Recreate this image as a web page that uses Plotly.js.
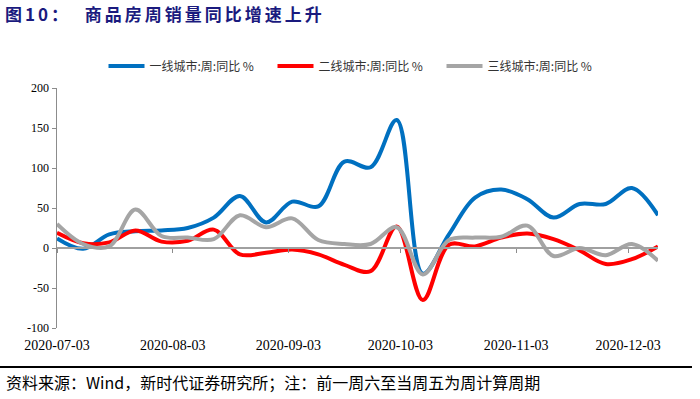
<!DOCTYPE html>
<html>
<head>
<meta charset="utf-8">
<script src="https://cdn.plot.ly/plotly-3.0.1.min.js"></script>
<style>html,body{margin:0;padding:0;background:#fff;}#chart{width:700px;height:399px;}
.gtitle{letter-spacing:3px;}
</style>
</head>
<body>
<div id="chart"></div>
<script>
// Weekly dates (Fridays)
const dates = ["2020-07-03","2020-07-10","2020-07-17","2020-07-24","2020-07-31","2020-08-07","2020-08-14","2020-08-21","2020-08-28","2020-09-04","2020-09-11","2020-09-18","2020-09-25","2020-10-02","2020-10-09","2020-10-16","2020-10-23","2020-10-30","2020-11-06","2020-11-13","2020-11-20","2020-11-27","2020-12-04","2020-12-11"];
const tier1 = [12, -1, 17, 21, 22, 25, 38, 65, 32, 58, 52, 108, 101, 160, -32, 17, 63, 73, 61, 38, 55, 55, 75, 41];
const tier2 = [19, 6, 7, 22, 8, 9, 23, -8, -6, -2, -8, -21, -29, 27, -65, 4, 2, 13, 18, 11, -3, -20, -14, 2];
const tier3 = [30, 5, 2, 48, 15, 13, 11, 41, 26, 37, 10, 5, 5, 26, -33, 10, 13, 14, 28, -10, 0, -9, 5, -16];
const seriesNames = ["一线城市:周:同比 %", "二线城市:周:同比 %", "三线城市:周:同比 %"];
const yTickVals = [-100, -50, 0, 50, 100, 150, 200];
const yTickLabels = ["-100", "-50", "0", "50", "100", "150", "200"];
const titleText = "图10：  商品房周销量同比增速上升";
const sourceText = "资料来源：Wind，新时代证券研究所；注：前一周六至当周五为周计算周期";

const colors = ["#0070C0", "#FF0000", "#A5A5A5"];
const serif = "Liberation Serif, Times New Roman, serif";
const cjk = "Noto Sans CJK SC, sans-serif";

const mk = (y, i) => ({
  x: dates, y: y, type: "scatter", mode: "lines", name: seriesNames[i],
  line: {color: colors[i], width: 4, shape: "spline", smoothing: 1},
  hoverinfo: "skip"
});

const traces = [mk(tier1, 0), mk(tier2, 1), mk(tier3, 2),
  {x: dates, y: dates.map(() => null), xaxis: "x2", type: "scatter", mode: "lines", showlegend: false, hoverinfo: "skip"}];

// plot area in px
const L = 57, R = 658, T = 88, B = 328, W = 700, H = 399;
const px = (v) => (v - L) / (R - L);
const py = (v) => (B - v) / (B - T);

const layout = {
  width: W, height: H,
  margin: {l: L, r: W - R, t: T, b: H - B, pad: 0},
  paper_bgcolor: "#fff", plot_bgcolor: "#fff",
  showlegend: true,
  title: {text: "<b>" + titleText + "</b>", x: 5 / W, xanchor: "left", y: 1 - 15 / H, yanchor: "middle",
    font: {family: cjk, size: 17, color: "#1a1a7e"}},
  legend: {orientation: "h", x: px(357), xanchor: "center", y: py(66), yanchor: "middle",
    font: {family: cjk, size: 12, color: "#333"}, entrywidth: 118, entrywidthmode: "pixels",
    itemwidth: 36, traceorder: "normal", bgcolor: "rgba(0,0,0,0)"},
  xaxis: {type: "date", range: ["2020-07-03", "2020-12-11"], anchor: "free", position: 1 / 3,
    tick0: "2020-07-03", dtick: "M1", showticklabels: false, ticks: "outside", ticklen: 4, tickcolor: "#8c8c8c", tickwidth: 1,
    showline: true, linecolor: "#a0a0a0", linewidth: 2, showgrid: false, zeroline: false, fixedrange: true},
  xaxis2: {type: "date", matches: "x", overlaying: "x", anchor: "y", side: "bottom",
    tick0: "2020-07-03", dtick: "M1", tickformat: "%Y-%m-%d", ticks: "", showline: false, showgrid: false, zeroline: false,
    tickfont: {family: serif, size: 14, color: "#000"}, ticklabelstandoff: 7},
  yaxis: {range: [-100, 200], tickvals: yTickVals, ticktext: yTickLabels, ticks: "outside", ticklen: 4,
    tickcolor: "#8c8c8c", showline: true, linecolor: "#8c8c8c", linewidth: 1.5, showgrid: false, zeroline: false,
    tickfont: {family: serif, size: 12, color: "#000"}, fixedrange: true},
  shapes: [{type: "line", xref: "paper", yref: "paper", x0: px(0), x1: px(692), y0: py(367), y1: py(367),
    line: {color: "#000", width: 2}}],
  annotations: [{text: sourceText, xref: "paper", yref: "paper", x: px(4), xanchor: "left", y: py(382), yanchor: "middle",
    showarrow: false, font: {family: cjk, size: 16, color: "#000"}}]
};

Plotly.newPlot("chart", traces, layout, {displayModeBar: false, staticPlot: true});
</script>
</body>
</html>
